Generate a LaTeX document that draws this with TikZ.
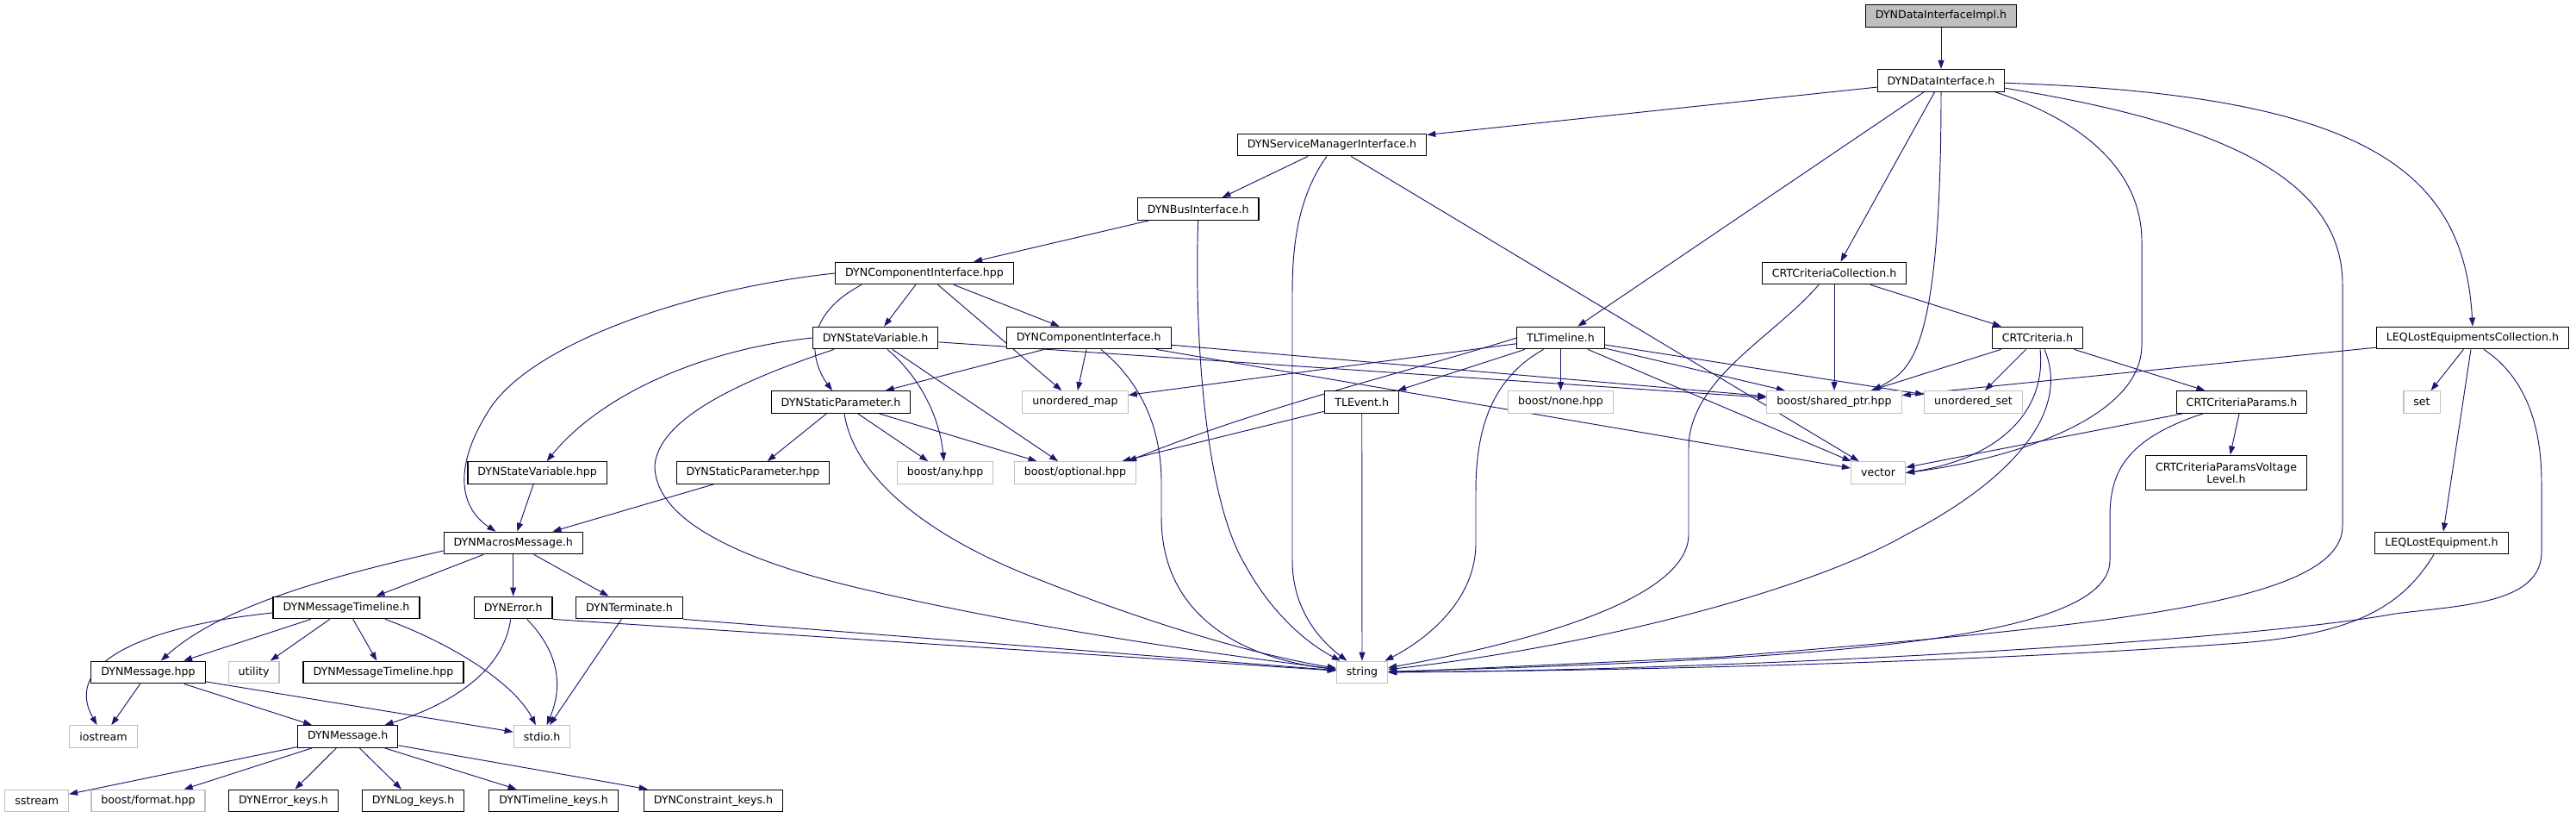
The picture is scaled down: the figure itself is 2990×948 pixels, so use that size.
\documentclass[tikz,border=0pt]{standalone}
\usepackage{fontspec}
\setmainfont{DejaVu Sans}
\usetikzlibrary{arrows.meta,backgrounds}
\definecolor{edgeblue}{HTML}{191970}
\definecolor{sysgray}{HTML}{BFBFBF}
\tikzset{
  file/.style={draw=black, line width=1.2pt, fill=white, inner xsep=11.5pt, inner ysep=0pt,
    minimum height=25.6pt, font=\fontsize{12.6}{13.7}\selectfont},
  sysfile/.style={file, draw=sysgray},
  mainfile/.style={file, fill=sysgray},
  dep/.style={draw=edgeblue, line width=0.95pt, -{Triangle[length=10pt,width=7pt]}}
}
\begin{document}
\begin{tikzpicture}[x=1pt, y=-1pt]
    % --- Khung hình ---
    \useasboundingbox (0,0) rectangle (2990,948);
    % Tung độ các hàng
    \def\rA{18.5}
    \def\rB{93.3}
    \def\rC{168}
    \def\rD{242.5}
    \def\rE{317}
    \def\rF{392}
    \def\rG{466.5}
    \def\rH{548.5}
    \def\rI{630}
    \def\rJ{705}
    \def\rK{780}
    \def\rL{854.5}
    \def\rM{929}

    % --- Các tệp ---
    \node[mainfile] (impl) at (2253,\rA) {DYNDataInterfaceImpl.h};
    \node[file] (dif) at (2253,\rB) {DYNDataInterface.h};
    \node[file] (smi) at (1546,\rC) {DYNServiceManagerInterface.h};
    \node[file] (bus) at (1390.6,\rD) {DYNBusInterface.h};
    \node[file] (cihpp) at (1073,\rE) {DYNComponentInterface.hpp};
    \node[file] (crtcoll) at (2129,\rE) {CRTCriteriaCollection.h};
    \node[file] (svh) at (1016,\rF) {DYNStateVariable.h};
    \node[file] (cih) at (1263.8,\rF) {DYNComponentInterface.h};
    \node[file] (tlt) at (1811.5,\rF) {TLTimeline.h};
    \node[file] (crt) at (2365,\rF) {CRTCriteria.h};
    \node[file] (leqcoll) at (2870,\rF) {LEQLostEquipmentsCollection.h};
    \node[file] (sph) at (976,\rG) {DYNStaticParameter.h};
    \node[sysfile] (umap) at (1248,\rG) {unordered\_map};
    \node[file] (tlev) at (1580.7,\rG) {TLEvent.h};
    \node[sysfile] (bnone) at (1811.5,\rG) {boost/none.hpp};
    \node[sysfile] (bshared) at (2129,\rG) {boost/shared\_ptr.hpp};
    \node[sysfile] (uset) at (2290.5,\rG) {unordered\_set};
    \node[file] (crtpar) at (2602,\rG) {CRTCriteriaParams.h};
    \node[sysfile] (stdset) at (2811,\rG) {set};
    \node[file] (svhpp) at (623.7,\rH) {DYNStateVariable.hpp};
    \node[file] (sphpp) at (874,\rH) {DYNStaticParameter.hpp};
    \node[sysfile] (bany) at (1097,\rH) {boost/any.hpp};
    \node[sysfile] (bopt) at (1248,\rH) {boost/optional.hpp};
    \node[sysfile] (vec) at (2180,\rH) {vector};
    \node[file, minimum height=40.7pt, align=center] (crtvl) at (2584,\rH) {CRTCriteriaParamsVoltage\\Level.h};
    \node[file] (macros) at (595.7,\rI) {DYNMacrosMessage.h};
    \node[file] (leq) at (2834,\rI) {LEQLostEquipment.h};
    \node[file] (msgtl) at (402,\rJ) {DYNMessageTimeline.h};
    \node[file] (err) at (595.7,\rJ) {DYNError.h};
    \node[file] (term) at (730.5,\rJ) {DYNTerminate.h};
    \node[file] (msghpp) at (172,\rK) {DYNMessage.hpp};
    \node[sysfile] (util) at (294.6,\rK) {utility};
    \node[file] (msgtlhpp) at (445,\rK) {DYNMessageTimeline.hpp};
    \node[sysfile] (str) at (1581,\rK) {string};
    \node[sysfile] (iostr) at (120,\rL) {iostream};
    \node[file] (msgh) at (403.7,\rL) {DYNMessage.h};
    \node[sysfile] (stdio) at (629,\rL) {stdio.h};
    \node[sysfile] (sstr) at (42.7,\rM) {sstream};
    \node[sysfile] (bfmt) at (172,\rM) {boost/format.hpp};
    \node[file] (errk) at (329,\rM) {DYNError\_keys.h};
    \node[file] (logk) at (479.6,\rM) {DYNLog\_keys.h};
    \node[file] (tlk) at (642.6,\rM) {DYNTimeline\_keys.h};
    \node[file] (cstk) at (828,\rM) {DYNConstraint\_keys.h};

    % --- Các mũi tên include ---
    \begin{scope}[on background layer]
    % Tầng trên
    \draw[dep] (impl) -- (dif);
    \draw[dep] (dif) -- (smi);
    \draw[dep] (dif) -- (tlt);
    \draw[dep] (dif) -- (crtcoll);
    \draw[dep] (dif.south) .. controls (2253,420) and (2215,430) .. ([xshift=45pt]bshared.north);
    \draw[dep] ([xshift=-12pt]dif.south east) .. controls (2420,140) and (2486,200) .. (2486,280)
        -- (2486,400) .. controls (2486,490) and (2320,535) .. (vec.east);
    \draw[dep] ([yshift=-9pt]dif.east) .. controls (2560,140) and (2719,200) .. (2719,330)
        -- (2719,610) .. controls (2719,700) and (2450,725) .. (2000,762) -- (str.east);
    \draw[dep] ([yshift=-3pt]dif.east) .. controls (2750,110) and (2860,200) .. (leqcoll.north);
    \draw[dep] (smi) -- (bus);
    \draw[dep] (smi) -- (vec);
    \draw[dep] ([xshift=-6pt]smi.south) .. controls (1505,230) and (1500,290) .. (1500,340)
        -- (1500,650) .. controls (1500,710) and (1535,745) .. (str);
    \draw[dep] (bus) -- (cihpp);
    \draw[dep] (bus.south) .. controls (1386,400) and (1400,580) .. (1445,655)
        .. controls (1475,710) and (1515,745) .. (str);

    % Các tệp DYNComponentInterface
    \draw[dep] (cihpp) -- (svh);
    \draw[dep] (cihpp) -- (umap);
    \draw[dep] (cihpp) -- (cih);
    \draw[dep] ([xshift=-73pt]cihpp.south) .. controls (925,370) and (945,425) .. (sph);
    \draw[dep] (cihpp.west) .. controls (800,335) and (610,400) .. (565,480)
        .. controls (525,545) and (535,590) .. (macros);
    \draw[dep] (svh.west) .. controls (820,405) and (700,455) .. (svhpp);
    \draw[dep] ([xshift=-48pt]svh.south) .. controls (880,435) and (765,480) .. (760,540)
        .. controls (760,610) and (880,655) .. (1000,683) .. controls (1200,730) and (1420,760) .. (str);
    \draw[dep] ([xshift=14pt]svh.south) .. controls (1065,435) and (1090,480) .. (bany);
    \draw[dep] (svh) -- (bopt);
    \draw[dep] (svh) -- (bshared);
    \draw[dep] (cih) -- (sph);
    \draw[dep] (cih) -- (umap);
    \draw[dep] (cih) -- (bshared);
    \draw[dep] (cih) -- (vec);
    \draw[dep] ([xshift=14pt]cih.south) .. controls (1320,440) and (1348,490) .. (1348,560)
        -- (1348,600) .. controls (1348,720) and (1450,765) .. (str);
    \draw[dep] (sph) -- (sphpp);
    \draw[dep] (sph) -- (bany);
    \draw[dep] (sph) -- (bopt);
    \draw[dep] ([xshift=4pt]sph.south) .. controls (990,545) and (1060,615) .. (1200,670)
        .. controls (1350,730) and (1470,762) .. (str);

    % TLTimeline
    \draw[dep] (tlt) -- (umap);
    \draw[dep] (tlt.west) .. controls (1640,430) and (1470,470) .. ([xshift=-10pt]bopt.north east);
    \draw[dep] (tlt) -- (tlev);
    \draw[dep] (tlt) -- (bnone);
    \draw[dep] (tlt) -- (vec);
    \draw[dep] (tlt) -- (bshared);
    \draw[dep] (tlt) -- (uset);
    \draw[dep] ([xshift=-20pt]tlt.south) .. controls (1730,440) and (1713,500) .. (1713,570)
        -- (1713,630) .. controls (1713,700) and (1650,745) .. (str);
    \draw[dep] (tlev) -- (bopt);
    \draw[dep] (tlev) -- (str);

    % CRT, LEQ
    \draw[dep] (crtcoll) -- (crt);
    \draw[dep] (crtcoll) -- (bshared);
    \draw[dep] ([xshift=-18pt]crtcoll.south) .. controls (2060,390) and (1960,440) .. (1960,520)
        -- (1960,620) .. controls (1960,700) and (1750,750) .. (str);
    \draw[dep] (crt) -- (bshared);
    \draw[dep] (crt) -- (uset);
    \draw[dep] (crt) -- (crtpar);
    \draw[dep] ([xshift=3pt]crt.south) .. controls (2375,470) and (2330,530) .. (vec.east);
    \draw[dep] ([xshift=8pt]crt.south) .. controls (2405,480) and (2330,560) .. (2213,620)
        .. controls (2100,685) and (1850,750) .. (str);
    \draw[dep] (crtpar) -- (vec);
    \draw[dep] (crtpar) -- (crtvl);
    \draw[dep] ([xshift=-45pt]crtpar.south) .. controls (2465,510) and (2449,550) .. (2449,600)
        -- (2449,650) .. controls (2449,745) and (2100,765) .. (str);
    \draw[dep] (leqcoll) -- (bshared);
    \draw[dep] (leqcoll) -- (stdset);
    \draw[dep] (leqcoll) -- (leq);
    \draw[dep] ([xshift=13pt]leqcoll.south) .. controls (2935,440) and (2950,500) .. (2950,560)
        -- (2950,640) .. controls (2950,700) and (2860,702) .. (2780,712)
        .. controls (2600,745) and (2000,778) .. (str);
    \draw[dep] ([xshift=-9pt]leq.south) .. controls (2790,700) and (2740,735) .. (2600,746)
        .. controls (2300,768) and (1900,778) .. (str);

    % Tầng dưới: thông báo
    \draw[dep] (svhpp) -- (macros);
    \draw[dep] (sphpp) -- (macros);
    \draw[dep] (macros) -- (msgtl);
    \draw[dep] (macros) -- (err);
    \draw[dep] (macros) -- (term);
    \draw[dep] ([yshift=-9pt]macros.west) .. controls (400,665) and (260,700) .. (msghpp);
    \draw[dep] ([yshift=-6pt]msgtl.west) .. controls (180,725) and (70,765) .. (iostr);
    \draw[dep] (msgtl) -- (msghpp);
    \draw[dep] (msgtl) -- (util);
    \draw[dep] (msgtl) -- (msgtlhpp);
    \draw[dep] ([xshift=45pt]msgtl.south) .. controls (520,745) and (595,790) .. (stdio);
    \draw[dep] ([xshift=-3pt]err.south) .. controls (585,775) and (530,815) .. (msgh);
    \draw[dep] ([xshift=16pt]err.south) .. controls (652,760) and (652,800) .. (stdio);
    \draw[dep] (err.south east) -- (str);
    \draw[dep] (term) -- (stdio);
    \draw[dep] (term.south east) -- (str);
    \draw[dep] (msghpp) -- (iostr);
    \draw[dep] (msghpp) -- (msgh);
    \draw[dep] (msghpp) -- (stdio);
    \draw[dep] (msgh) -- (sstr);
    \draw[dep] (msgh) -- (bfmt);
    \draw[dep] (msgh) -- (errk);
    \draw[dep] (msgh) -- (logk);
    \draw[dep] (msgh) -- (tlk);
    \draw[dep] (msgh) -- (cstk);
    \end{scope}
\end{tikzpicture}
\end{document}
